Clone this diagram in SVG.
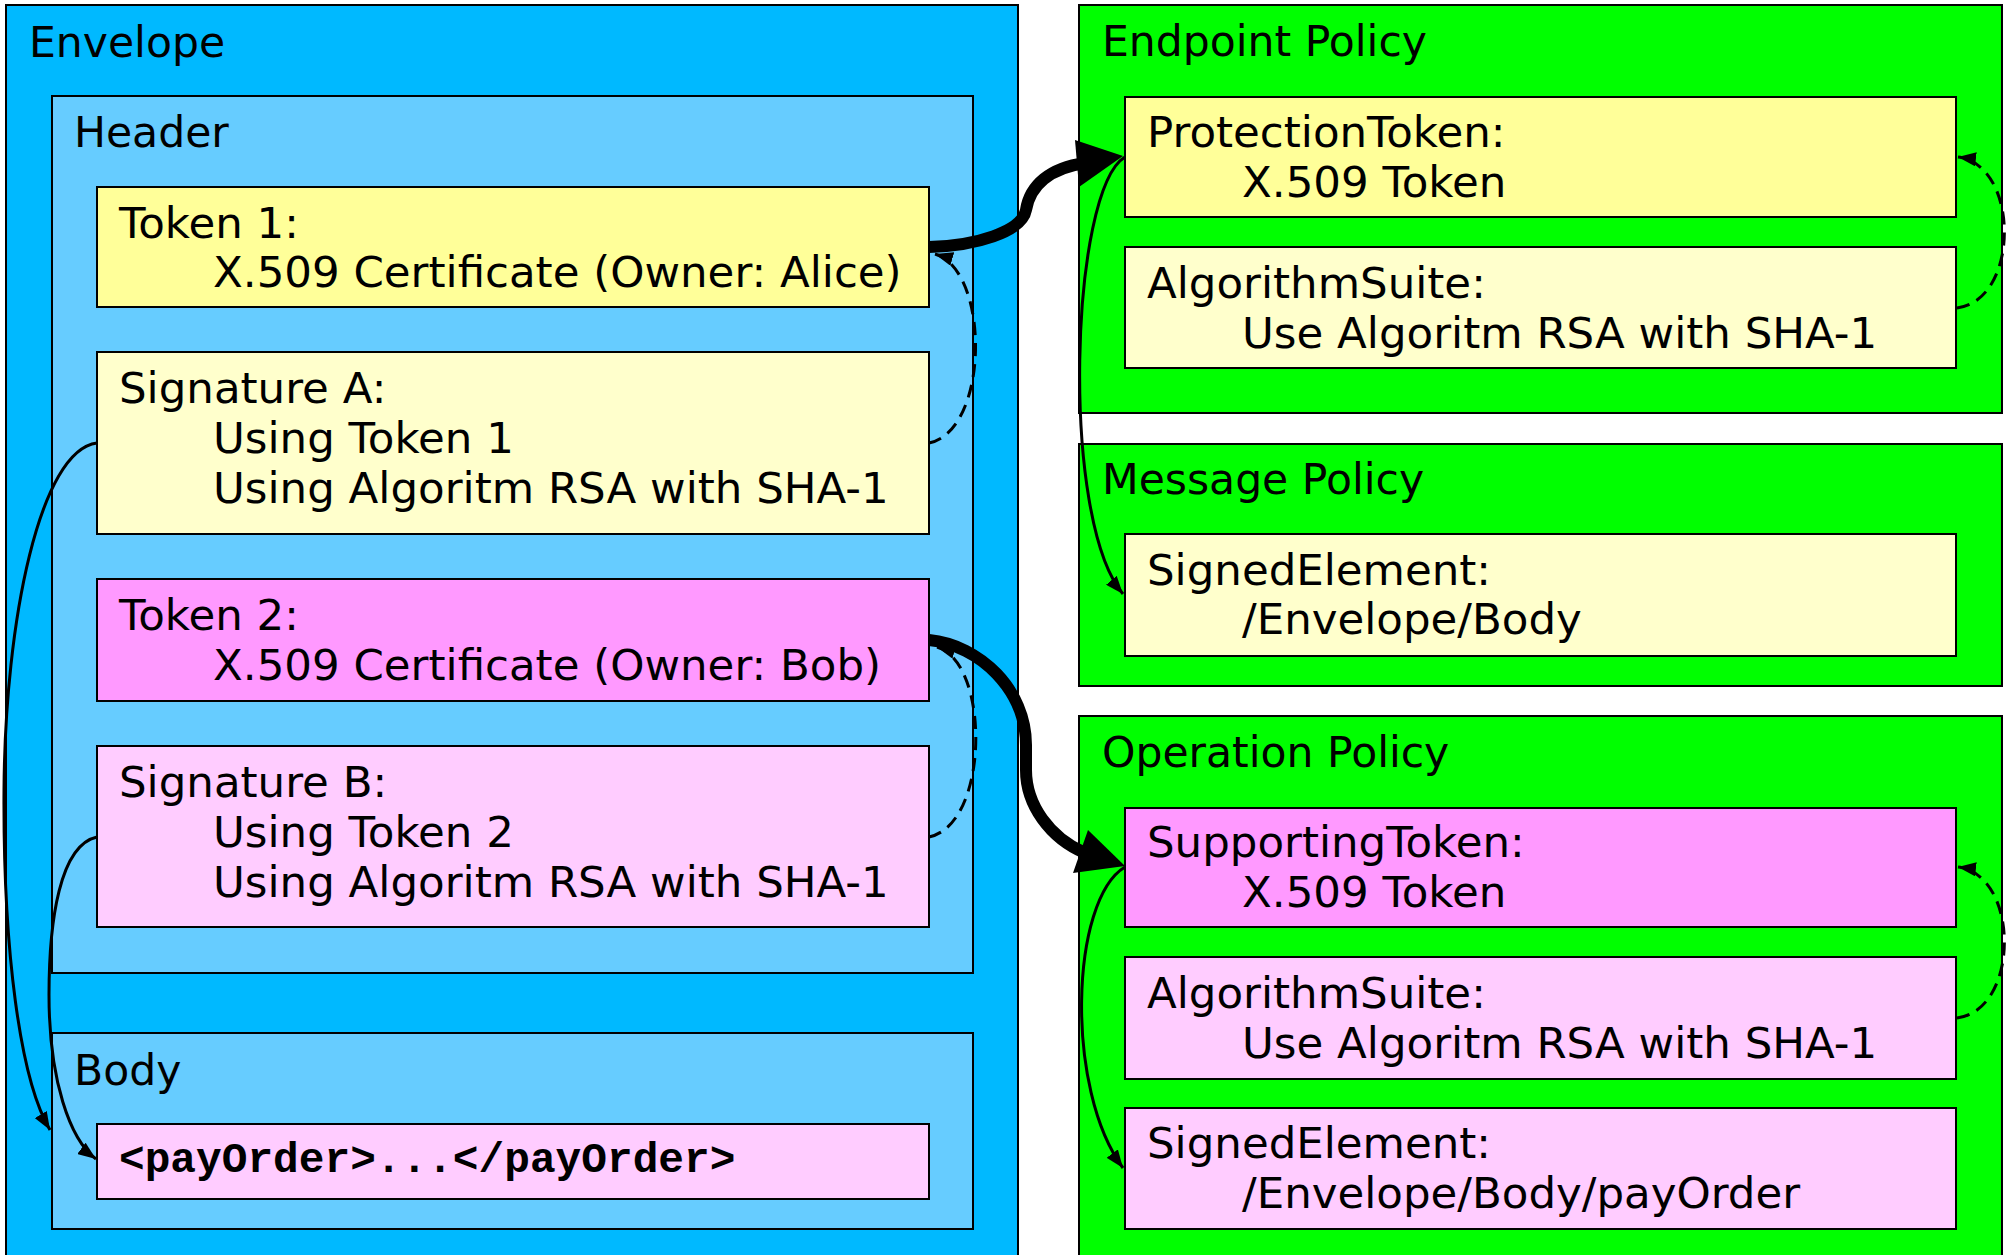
<svg xmlns="http://www.w3.org/2000/svg" width="2013" height="1255" viewBox="0 0 2013 1255">
  <style>
    .box { stroke: #000; stroke-width: 2; }
    .env { fill: #00B9FF; }
    .part { fill: #66CCFF; }
    .policy { fill: #00FF00; }
    .y1 { fill: #FFFF99; }
    .y2 { fill: #FFFFCC; }
    .m1 { fill: #FF99FF; }
    .m2 { fill: #FFCCFF; }
    text { font-family: "DejaVu Sans", Verdana, sans-serif; font-size: 43.5px; fill: #000; }
    text.title { font-size: 42.5px; }
    text.code { font-family: "Liberation Mono", "Courier New", monospace; font-weight: bold; font-size: 42.8px; }
    .thick { fill: none; stroke: #000; stroke-width: 12; }
    .thin { fill: none; stroke: #000; stroke-width: 3; marker-end: url(#arrow); }
    .dash { fill: none; stroke: #000; stroke-width: 3; stroke-dasharray: 13 8; marker-end: url(#arrow); }
  </style>
  <defs>
    <marker id="arrow" markerUnits="userSpaceOnUse" markerWidth="20" markerHeight="14" refX="18" refY="7" orient="auto">
      <path d="M0,0 L18,7 L0,14 Z" fill="#000"/>
    </marker>
  </defs>

  <!-- SOAP envelope -->
  <g id="envelope">
    <rect class="box env" x="6" y="5" width="1012" height="1260"/>
    <text class="title" x="29" y="57">Envelope</text>
  </g>
  <g id="header">
    <rect class="box part" x="52" y="96" width="921" height="877"/>
    <text class="title" x="74" y="147">Header</text>
  </g>
  <g id="token1">
    <rect class="box y1" x="97" y="187" width="832" height="120"/>
    <text x="119" y="238">Token 1:</text>
    <text x="213" y="287">X.509 Certificate (Owner: Alice)</text>
  </g>
  <g id="signatureA">
    <rect class="box y2" x="97" y="352" width="832" height="182"/>
    <text x="119" y="403">Signature A:</text>
    <text x="213" y="453">Using Token 1</text>
    <text x="213" y="503">Using Algoritm RSA with SHA-1</text>
  </g>
  <g id="token2">
    <rect class="box m1" x="97" y="579" width="832" height="122"/>
    <text x="119" y="630">Token 2:</text>
    <text x="213" y="680">X.509 Certificate (Owner: Bob)</text>
  </g>
  <g id="signatureB">
    <rect class="box m2" x="97" y="746" width="832" height="181"/>
    <text x="119" y="797">Signature B:</text>
    <text x="213" y="847">Using Token 2</text>
    <text x="213" y="897">Using Algoritm RSA with SHA-1</text>
  </g>
  <g id="body">
    <rect class="box part" x="52" y="1033" width="921" height="196"/>
    <text class="title" x="74" y="1085">Body</text>
  </g>
  <g id="payOrder">
    <rect class="box m2" x="97" y="1124" width="832" height="75"/>
    <text class="code" x="119" y="1172">&lt;payOrder&gt;...&lt;/payOrder&gt;</text>
  </g>

  <!-- Policies -->
  <g id="endpointPolicy">
    <rect class="box policy" x="1079" y="5" width="923" height="408"/>
    <text class="title" x="1102" y="56">Endpoint Policy</text>
  </g>
  <g id="protectionToken">
    <rect class="box y1" x="1125" y="97" width="831" height="120"/>
    <text x="1147" y="147">ProtectionToken:</text>
    <text x="1242" y="197">X.509 Token</text>
  </g>
  <g id="endpointAlgorithmSuite">
    <rect class="box y2" x="1125" y="247" width="831" height="121"/>
    <text x="1147" y="298">AlgorithmSuite:</text>
    <text x="1242" y="348">Use Algoritm RSA with SHA-1</text>
  </g>
  <g id="messagePolicy">
    <rect class="box policy" x="1079" y="444" width="923" height="242"/>
    <text class="title" x="1102" y="494">Message Policy</text>
  </g>
  <g id="messageSignedElement">
    <rect class="box y2" x="1125" y="534" width="831" height="122"/>
    <text x="1147" y="585">SignedElement:</text>
    <text x="1242" y="634">/Envelope/Body</text>
  </g>
  <g id="operationPolicy">
    <rect class="box policy" x="1079" y="716" width="923" height="560"/>
    <text class="title" x="1102" y="767">Operation Policy</text>
  </g>
  <g id="supportingToken">
    <rect class="box m1" x="1125" y="808" width="831" height="119"/>
    <text x="1147" y="857">SupportingToken:</text>
    <text x="1242" y="907">X.509 Token</text>
  </g>
  <g id="operationAlgorithmSuite">
    <rect class="box m2" x="1125" y="957" width="831" height="122"/>
    <text x="1147" y="1008">AlgorithmSuite:</text>
    <text x="1242" y="1058">Use Algoritm RSA with SHA-1</text>
  </g>
  <g id="operationSignedElement">
    <rect class="box m2" x="1125" y="1108" width="831" height="121"/>
    <text x="1147" y="1158">SignedElement:</text>
    <text x="1242" y="1208">/Envelope/Body/payOrder</text>
  </g>

  <!-- Connectors -->
  <g id="connectors">
    <!-- tokens matched to policy token assertions -->
    <path class="thick" d="M929,247 C975,246 1022,232 1026,210 C1030,185 1050,168 1085,163"/>
    <polygon points="1123,156 1075,140 1079,187" fill="#000"/>
    <path class="thick" d="M929,640 C980,645 1026,690 1026,745 L1026,770 C1026,805 1050,838 1085,853"/>
    <polygon points="1125,866 1088,830 1073,873" fill="#000"/>

    <!-- signatures referencing their tokens -->
    <path class="dash" d="M929,443 C990,430 990,270 935,254"/>
    <path class="dash" d="M929,837 C990,824 990,662 937,647"/>
    <path class="dash" d="M1957,308 C2020,300 2020,165 1958,157"/>
    <path class="dash" d="M1957,1018 C2020,1010 2020,875 1958,867"/>

    <!-- signed parts -->
    <path class="thin" d="M97,443 C40,450 5,620 4,790 C3,950 20,1080 50,1130"/>
    <path class="thin" d="M97,837 C60,845 49,920 49,995 C49,1080 70,1140 96,1159"/>
    <path class="thin" d="M1125,157 C1070,190 1060,520 1123,594"/>
    <path class="thin" d="M1125,867 C1070,900 1065,1090 1123,1168"/>
  </g>
</svg>
